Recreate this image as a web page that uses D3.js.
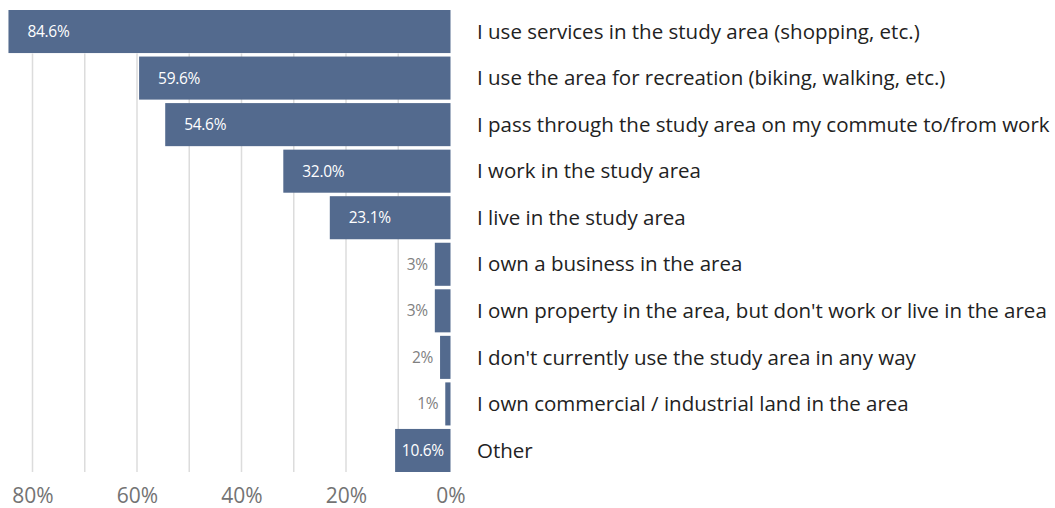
<!DOCTYPE html>
<html>
<head>
<meta charset="utf-8">
<script src="https://cdn.jsdelivr.net/npm/d3@7"></script>
<style>
  html, body { margin: 0; padding: 0; background: #fff; }
  svg { display: block; font-family: "Open Sans", sans-serif; }
</style>
</head>
<body>
<svg id="chart" width="1055" height="508"></svg>
<script>
const categories = [
  "I use services in the study area (shopping, etc.)",
  "I use the area for recreation (biking, walking, etc.)",
  "I pass through the study area on my commute to/from work",
  "I work in the study area",
  "I live in the study area",
  "I own a business in the area",
  "I own property in the area, but don't work or live in the area",
  "I don't currently use the study area in any way",
  "I own commercial / industrial land in the area",
  "Other"
];
const values = [84.6, 59.6, 54.6, 32.0, 23.1, 3, 3, 2, 1, 10.6];
const valueLabels = ["84.6%", "59.6%", "54.6%", "32.0%", "23.1%", "3%", "3%", "2%", "1%", "10.6%"];
const gridTicks = [10, 20, 30, 40, 50, 60, 70, 80];
const axisTicks = [80, 60, 40, 20, 0];

const svg = d3.select("#chart");
const zeroX = 450.5;

const x = d3.scaleLinear().domain([0, 80]).range([zeroX, 32.5]);
const y = d3.scaleBand().domain(categories).range([10, 472]).paddingInner(0.075).paddingOuter(0);

const rows = categories.map((c, i) => ({ cat: c, value: values[i], label: valueLabels[i] }));

// gridlines
svg.append("g")
  .selectAll("line")
  .data(gridTicks)
  .join("line")
  .attr("x1", d => x(d)).attr("x2", d => x(d))
  .attr("y1", y(categories[1]) - 3).attr("y2", 472)
  .attr("stroke", "#dcdcdc")
  .attr("stroke-width", 1.5);

// bars
svg.append("g")
  .selectAll("rect")
  .data(rows)
  .join("rect")
  .attr("x", d => x(d.value))
  .attr("y", d => y(d.cat))
  .attr("width", d => zeroX - x(d.value))
  .attr("height", y.bandwidth())
  .attr("fill", "#536a8e");

// value labels
svg.append("g")
  .selectAll("text")
  .data(rows)
  .join("text")
  .attr("x", d => {
    if (d.value > 20) return x(d.value) + 19;
    if (d.value > 5) return (x(d.value) + zeroX) / 2;
    return x(d.value) - 7;
  })
  .attr("y", d => y(d.cat) + y.bandwidth() / 2)
  .attr("dy", "0.35em")
  .attr("text-anchor", d => d.value > 20 ? "start" : d.value > 5 ? "middle" : "end")
  .attr("fill", d => d.value > 5 ? "#ffffff" : "#808080")
  .attr("font-size", 15.5)
  .attr("letter-spacing", -0.3)
  .text(d => d.label);

// category labels
svg.append("g")
  .selectAll("text")
  .data(rows)
  .join("text")
  .attr("x", 477)
  .attr("y", d => y(d.cat) + y.bandwidth() / 2)
  .attr("dy", "0.35em")
  .attr("fill", "#222222")
  .attr("font-size", 20.5)
  .text(d => d.cat);

// bottom axis labels
const axis = d3.axisBottom(x).tickValues(axisTicks).tickFormat(d => d + "%").tickSize(0).tickPadding(0);
const gx = svg.append("g").attr("transform", "translate(0,488)").call(axis);
gx.select(".domain").remove();
gx.selectAll("text")
  .attr("font-family", "\"Open Sans\", sans-serif")
  .attr("font-size", 21)
  .attr("fill", "#737373")
  .attr("dy", "0.7em");
</script>
</body>
</html>
